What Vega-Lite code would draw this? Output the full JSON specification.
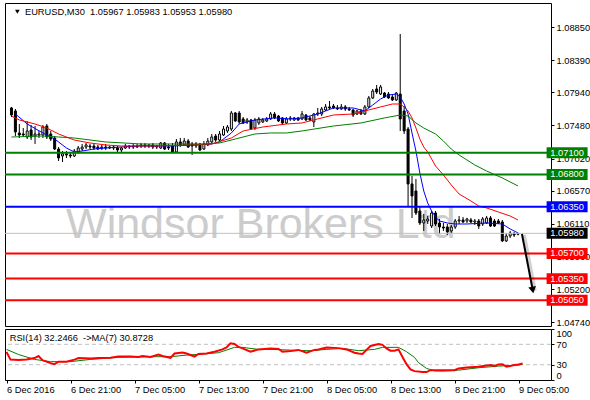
{
  "$schema": "https://vega.github.io/schema/vega-lite/v6.json",
  "padding": {"left": 2, "top": 2, "right": 0, "bottom": 0},
  "autosize": {"type": "pad"},
  "background": "#ffffff",
  "bounds": "flush",
  "spacing": 3,
  "config": {
    "view": {"stroke": "#000000", "strokeWidth": 1},
    "axis": {"labelFont": "Liberation Sans", "labelFontSize": 9.3, "labelColor": "#000000", "tickColor": "#000000", "tickSize": 3, "domain": false, "grid": false, "title": null, "labelPadding": 2, "labelOverlap": false},
    "text": {"font": "Liberation Sans"}
  },
  "datasets": {
    "candles": [
      {"t":"2016-12-06T13:00","o":1.07724,"h":1.07738,"l":1.07598,"c":1.07626},
      {"t":"2016-12-06T13:30","o":1.07682,"h":1.07710,"l":1.07334,"c":1.07390},
      {"t":"2016-12-06T14:00","o":1.07376,"h":1.07501,"l":1.07306,"c":1.07348},
      {"t":"2016-12-06T14:30","o":1.07362,"h":1.07445,"l":1.07320,"c":1.07348},
      {"t":"2016-12-06T15:00","o":1.07320,"h":1.07543,"l":1.07292,"c":1.07404},
      {"t":"2016-12-06T15:30","o":1.07418,"h":1.07487,"l":1.07278,"c":1.07320},
      {"t":"2016-12-06T16:00","o":1.07334,"h":1.07473,"l":1.07223,"c":1.07362},
      {"t":"2016-12-06T16:30","o":1.07348,"h":1.07404,"l":1.07306,"c":1.07362},
      {"t":"2016-12-06T17:00","o":1.07348,"h":1.07487,"l":1.07306,"c":1.07459},
      {"t":"2016-12-06T17:30","o":1.07473,"h":1.07501,"l":1.07292,"c":1.07320},
      {"t":"2016-12-06T18:00","o":1.07362,"h":1.07404,"l":1.07264,"c":1.07292},
      {"t":"2016-12-06T18:30","o":1.07306,"h":1.07334,"l":1.07139,"c":1.07153},
      {"t":"2016-12-06T19:00","o":1.07153,"h":1.07181,"l":1.06986,"c":1.07028},
      {"t":"2016-12-06T19:30","o":1.07056,"h":1.07125,"l":1.06972,"c":1.07084},
      {"t":"2016-12-06T20:00","o":1.07084,"h":1.07125,"l":1.07028,"c":1.07070},
      {"t":"2016-12-06T20:30","o":1.07070,"h":1.07097,"l":1.07028,"c":1.07056},
      {"t":"2016-12-06T21:00","o":1.07056,"h":1.07153,"l":1.07042,"c":1.07125},
      {"t":"2016-12-06T21:30","o":1.07111,"h":1.07195,"l":1.07084,"c":1.07167},
      {"t":"2016-12-06T22:00","o":1.07153,"h":1.07223,"l":1.07125,"c":1.07181},
      {"t":"2016-12-06T22:30","o":1.07181,"h":1.07237,"l":1.07153,"c":1.07209},
      {"t":"2016-12-06T23:00","o":1.07195,"h":1.07223,"l":1.07153,"c":1.07181},
      {"t":"2016-12-06T23:30","o":1.07195,"h":1.07223,"l":1.07139,"c":1.07167},
      {"t":"2016-12-07T00:00","o":1.07181,"h":1.07209,"l":1.07139,"c":1.07153},
      {"t":"2016-12-07T00:30","o":1.07167,"h":1.07209,"l":1.07139,"c":1.07181},
      {"t":"2016-12-07T01:00","o":1.07181,"h":1.07223,"l":1.07139,"c":1.07167},
      {"t":"2016-12-07T01:30","o":1.07167,"h":1.07195,"l":1.07153,"c":1.07181},
      {"t":"2016-12-07T02:00","o":1.07181,"h":1.07209,"l":1.07139,"c":1.07167},
      {"t":"2016-12-07T02:30","o":1.07167,"h":1.07195,"l":1.07111,"c":1.07139},
      {"t":"2016-12-07T03:00","o":1.07139,"h":1.07181,"l":1.07111,"c":1.07167},
      {"t":"2016-12-07T03:30","o":1.07167,"h":1.07223,"l":1.07153,"c":1.07195},
      {"t":"2016-12-07T04:00","o":1.07181,"h":1.07209,"l":1.07153,"c":1.07195},
      {"t":"2016-12-07T04:30","o":1.07195,"h":1.07223,"l":1.07153,"c":1.07181},
      {"t":"2016-12-07T05:00","o":1.07181,"h":1.07223,"l":1.07167,"c":1.07195},
      {"t":"2016-12-07T05:30","o":1.07195,"h":1.07237,"l":1.07167,"c":1.07209},
      {"t":"2016-12-07T06:00","o":1.07209,"h":1.07237,"l":1.07167,"c":1.07195},
      {"t":"2016-12-07T06:30","o":1.07195,"h":1.07223,"l":1.07167,"c":1.07209},
      {"t":"2016-12-07T07:00","o":1.07209,"h":1.07237,"l":1.07153,"c":1.07181},
      {"t":"2016-12-07T07:30","o":1.07181,"h":1.07209,"l":1.07153,"c":1.07195},
      {"t":"2016-12-07T08:00","o":1.07167,"h":1.07251,"l":1.07153,"c":1.07237},
      {"t":"2016-12-07T08:30","o":1.07237,"h":1.07251,"l":1.07139,"c":1.07153},
      {"t":"2016-12-07T09:00","o":1.07181,"h":1.07223,"l":1.07139,"c":1.07167},
      {"t":"2016-12-07T09:30","o":1.07195,"h":1.07237,"l":1.07097,"c":1.07111},
      {"t":"2016-12-07T10:00","o":1.07111,"h":1.07292,"l":1.07097,"c":1.07251},
      {"t":"2016-12-07T10:30","o":1.07251,"h":1.07306,"l":1.07181,"c":1.07209},
      {"t":"2016-12-07T11:00","o":1.07209,"h":1.07306,"l":1.07195,"c":1.07264},
      {"t":"2016-12-07T11:30","o":1.07264,"h":1.07292,"l":1.07167,"c":1.07181},
      {"t":"2016-12-07T12:00","o":1.07223,"h":1.07251,"l":1.07070,"c":1.07195},
      {"t":"2016-12-07T12:30","o":1.07195,"h":1.07251,"l":1.07167,"c":1.07223},
      {"t":"2016-12-07T13:00","o":1.07223,"h":1.07237,"l":1.07125,"c":1.07139},
      {"t":"2016-12-07T13:30","o":1.07153,"h":1.07264,"l":1.07139,"c":1.07223},
      {"t":"2016-12-07T14:00","o":1.07209,"h":1.07306,"l":1.07195,"c":1.07264},
      {"t":"2016-12-07T14:30","o":1.07251,"h":1.07362,"l":1.07237,"c":1.07320},
      {"t":"2016-12-07T15:00","o":1.07334,"h":1.07362,"l":1.07251,"c":1.07278},
      {"t":"2016-12-07T15:30","o":1.07278,"h":1.07404,"l":1.07264,"c":1.07362},
      {"t":"2016-12-07T16:00","o":1.07348,"h":1.07473,"l":1.07334,"c":1.07431},
      {"t":"2016-12-07T16:30","o":1.07404,"h":1.07487,"l":1.07376,"c":1.07459},
      {"t":"2016-12-07T17:00","o":1.07431,"h":1.07682,"l":1.07404,"c":1.07654},
      {"t":"2016-12-07T17:30","o":1.07654,"h":1.07668,"l":1.07529,"c":1.07543},
      {"t":"2016-12-07T18:00","o":1.07654,"h":1.07682,"l":1.07501,"c":1.07529},
      {"t":"2016-12-07T18:30","o":1.07571,"h":1.07598,"l":1.07501,"c":1.07515},
      {"t":"2016-12-07T19:00","o":1.07529,"h":1.07585,"l":1.07501,"c":1.07557},
      {"t":"2016-12-07T19:30","o":1.07557,"h":1.07571,"l":1.07418,"c":1.07431},
      {"t":"2016-12-07T20:00","o":1.07445,"h":1.07585,"l":1.07418,"c":1.07557},
      {"t":"2016-12-07T20:30","o":1.07515,"h":1.07598,"l":1.07487,"c":1.07571},
      {"t":"2016-12-07T21:00","o":1.07529,"h":1.07585,"l":1.07515,"c":1.07557},
      {"t":"2016-12-07T21:30","o":1.07543,"h":1.07598,"l":1.07529,"c":1.07571},
      {"t":"2016-12-07T22:00","o":1.07571,"h":1.07668,"l":1.07557,"c":1.07640},
      {"t":"2016-12-07T22:30","o":1.07640,"h":1.07668,"l":1.07571,"c":1.07585},
      {"t":"2016-12-07T23:00","o":1.07612,"h":1.07626,"l":1.07529,"c":1.07543},
      {"t":"2016-12-07T23:30","o":1.07585,"h":1.07598,"l":1.07501,"c":1.07515},
      {"t":"2016-12-08T00:00","o":1.07515,"h":1.07598,"l":1.07501,"c":1.07571},
      {"t":"2016-12-08T00:30","o":1.07571,"h":1.07612,"l":1.07543,"c":1.07585},
      {"t":"2016-12-08T01:00","o":1.07557,"h":1.07598,"l":1.07543,"c":1.07585},
      {"t":"2016-12-08T01:30","o":1.07585,"h":1.07598,"l":1.07543,"c":1.07557},
      {"t":"2016-12-08T02:00","o":1.07571,"h":1.07682,"l":1.07557,"c":1.07640},
      {"t":"2016-12-08T02:30","o":1.07626,"h":1.07640,"l":1.07543,"c":1.07557},
      {"t":"2016-12-08T03:00","o":1.07585,"h":1.07612,"l":1.07543,"c":1.07557},
      {"t":"2016-12-08T03:30","o":1.07529,"h":1.07654,"l":1.07459,"c":1.07640},
      {"t":"2016-12-08T04:00","o":1.07640,"h":1.07724,"l":1.07612,"c":1.07654},
      {"t":"2016-12-08T04:30","o":1.07640,"h":1.07738,"l":1.07612,"c":1.07710},
      {"t":"2016-12-08T05:00","o":1.07696,"h":1.07779,"l":1.07682,"c":1.07738},
      {"t":"2016-12-08T05:30","o":1.07738,"h":1.07821,"l":1.07710,"c":1.07724},
      {"t":"2016-12-08T06:00","o":1.07751,"h":1.07779,"l":1.07710,"c":1.07724},
      {"t":"2016-12-08T06:30","o":1.07724,"h":1.07765,"l":1.07696,"c":1.07710},
      {"t":"2016-12-08T07:00","o":1.07710,"h":1.07779,"l":1.07696,"c":1.07738},
      {"t":"2016-12-08T07:30","o":1.07738,"h":1.07765,"l":1.07682,"c":1.07710},
      {"t":"2016-12-08T08:00","o":1.07710,"h":1.07738,"l":1.07682,"c":1.07696},
      {"t":"2016-12-08T08:30","o":1.07696,"h":1.07710,"l":1.07598,"c":1.07626},
      {"t":"2016-12-08T09:00","o":1.07640,"h":1.07696,"l":1.07626,"c":1.07682},
      {"t":"2016-12-08T09:30","o":1.07682,"h":1.07710,"l":1.07626,"c":1.07640},
      {"t":"2016-12-08T10:00","o":1.07640,"h":1.07765,"l":1.07626,"c":1.07738},
      {"t":"2016-12-08T10:30","o":1.07738,"h":1.07891,"l":1.07724,"c":1.07863},
      {"t":"2016-12-08T11:00","o":1.07863,"h":1.07988,"l":1.07849,"c":1.07960},
      {"t":"2016-12-08T11:30","o":1.07988,"h":1.08044,"l":1.07918,"c":1.07946},
      {"t":"2016-12-08T12:00","o":1.07918,"h":1.08044,"l":1.07904,"c":1.08016},
      {"t":"2016-12-08T12:30","o":1.07932,"h":1.07946,"l":1.07863,"c":1.07877},
      {"t":"2016-12-08T13:00","o":1.07918,"h":1.07946,"l":1.07849,"c":1.07863},
      {"t":"2016-12-08T13:30","o":1.07877,"h":1.07904,"l":1.07821,"c":1.07835},
      {"t":"2016-12-08T14:00","o":1.07835,"h":1.07946,"l":1.07821,"c":1.07932},
      {"t":"2016-12-08T14:30","o":1.07918,"h":1.08753,"l":1.07404,"c":1.07571},
      {"t":"2016-12-08T15:00","o":1.07682,"h":1.07751,"l":1.07362,"c":1.07404},
      {"t":"2016-12-08T15:30","o":1.07431,"h":1.07459,"l":1.06360,"c":1.06667},
      {"t":"2016-12-08T16:00","o":1.06667,"h":1.06778,"l":1.06194,"c":1.06500},
      {"t":"2016-12-08T16:30","o":1.06569,"h":1.06736,"l":1.06235,"c":1.06263},
      {"t":"2016-12-08T17:00","o":1.06291,"h":1.06360,"l":1.06096,"c":1.06124},
      {"t":"2016-12-08T17:30","o":1.06124,"h":1.06249,"l":1.06013,"c":1.06166},
      {"t":"2016-12-08T18:00","o":1.06152,"h":1.06221,"l":1.06110,"c":1.06180},
      {"t":"2016-12-08T18:30","o":1.06082,"h":1.06291,"l":1.06054,"c":1.06263},
      {"t":"2016-12-08T19:00","o":1.06263,"h":1.06291,"l":1.06082,"c":1.06110},
      {"t":"2016-12-08T19:30","o":1.06124,"h":1.06180,"l":1.05971,"c":1.06068},
      {"t":"2016-12-08T20:00","o":1.06068,"h":1.06124,"l":1.06013,"c":1.06054},
      {"t":"2016-12-08T20:30","o":1.06068,"h":1.06110,"l":1.05957,"c":1.05999},
      {"t":"2016-12-08T21:00","o":1.06013,"h":1.06096,"l":1.05985,"c":1.06068},
      {"t":"2016-12-08T21:30","o":1.06068,"h":1.06180,"l":1.06041,"c":1.06152},
      {"t":"2016-12-08T22:00","o":1.06152,"h":1.06221,"l":1.06110,"c":1.06166},
      {"t":"2016-12-08T22:30","o":1.06166,"h":1.06207,"l":1.06124,"c":1.06138},
      {"t":"2016-12-08T23:00","o":1.06152,"h":1.06194,"l":1.06124,"c":1.06180},
      {"t":"2016-12-08T23:30","o":1.06166,"h":1.06194,"l":1.06124,"c":1.06138},
      {"t":"2016-12-09T00:00","o":1.06138,"h":1.06180,"l":1.06096,"c":1.06152},
      {"t":"2016-12-09T00:30","o":1.06152,"h":1.06180,"l":1.06041,"c":1.06082},
      {"t":"2016-12-09T01:00","o":1.06110,"h":1.06207,"l":1.06082,"c":1.06180},
      {"t":"2016-12-09T01:30","o":1.06124,"h":1.06221,"l":1.06110,"c":1.06194},
      {"t":"2016-12-09T02:00","o":1.06194,"h":1.06221,"l":1.06068,"c":1.06082},
      {"t":"2016-12-09T02:30","o":1.06152,"h":1.06180,"l":1.06068,"c":1.06082},
      {"t":"2016-12-09T03:00","o":1.06152,"h":1.06180,"l":1.06110,"c":1.06124},
      {"t":"2016-12-09T03:30","o":1.06138,"h":1.06166,"l":1.05860,"c":1.05874},
      {"t":"2016-12-09T04:00","o":1.05874,"h":1.05985,"l":1.05860,"c":1.05943},
      {"t":"2016-12-09T04:30","o":1.05943,"h":1.06013,"l":1.05915,"c":1.05985},
      {"t":"2016-12-09T05:00","o":1.05971,"h":1.05999,"l":1.05929,"c":1.05957},
      {"t":"2016-12-09T05:30","o":1.05967,"h":1.05983,"l":1.05953,"c":1.05980}
    ],
    "ma": [
      {"t":"2016-12-06T13:30","s":"fast","p":1.07640},
      {"t":"2016-12-06T15:00","s":"fast","p":1.07501},
      {"t":"2016-12-06T17:00","s":"fast","p":1.07376},
      {"t":"2016-12-06T18:30","s":"fast","p":1.07292},
      {"t":"2016-12-06T20:00","s":"fast","p":1.07167},
      {"t":"2016-12-06T21:00","s":"fast","p":1.07111},
      {"t":"2016-12-06T22:00","s":"fast","p":1.07125},
      {"t":"2016-12-06T23:30","s":"fast","p":1.07153},
      {"t":"2016-12-07T01:00","s":"fast","p":1.07167},
      {"t":"2016-12-07T05:00","s":"fast","p":1.07195},
      {"t":"2016-12-07T09:30","s":"fast","p":1.07195},
      {"t":"2016-12-07T12:00","s":"fast","p":1.07209},
      {"t":"2016-12-07T14:30","s":"fast","p":1.07223},
      {"t":"2016-12-07T15:30","s":"fast","p":1.07251},
      {"t":"2016-12-07T17:00","s":"fast","p":1.07376},
      {"t":"2016-12-07T18:00","s":"fast","p":1.07501},
      {"t":"2016-12-07T20:00","s":"fast","p":1.07557},
      {"t":"2016-12-07T22:30","s":"fast","p":1.07585},
      {"t":"2016-12-08T00:30","s":"fast","p":1.07571},
      {"t":"2016-12-08T02:00","s":"fast","p":1.07585},
      {"t":"2016-12-08T04:00","s":"fast","p":1.07640},
      {"t":"2016-12-08T06:00","s":"fast","p":1.07724},
      {"t":"2016-12-08T08:30","s":"fast","p":1.07724},
      {"t":"2016-12-08T10:00","s":"fast","p":1.07682},
      {"t":"2016-12-08T11:00","s":"fast","p":1.07765},
      {"t":"2016-12-08T12:00","s":"fast","p":1.07849},
      {"t":"2016-12-08T13:00","s":"fast","p":1.07904},
      {"t":"2016-12-08T14:00","s":"fast","p":1.07918},
      {"t":"2016-12-08T14:30","s":"fast","p":1.07877},
      {"t":"2016-12-08T15:00","s":"fast","p":1.07779},
      {"t":"2016-12-08T15:30","s":"fast","p":1.07640},
      {"t":"2016-12-08T16:00","s":"fast","p":1.07376},
      {"t":"2016-12-08T16:30","s":"fast","p":1.07125},
      {"t":"2016-12-08T17:00","s":"fast","p":1.06819},
      {"t":"2016-12-08T17:30","s":"fast","p":1.06569},
      {"t":"2016-12-08T18:00","s":"fast","p":1.06402},
      {"t":"2016-12-08T18:30","s":"fast","p":1.06291},
      {"t":"2016-12-08T19:00","s":"fast","p":1.06207},
      {"t":"2016-12-08T19:30","s":"fast","p":1.06152},
      {"t":"2016-12-08T20:30","s":"fast","p":1.06124},
      {"t":"2016-12-08T21:30","s":"fast","p":1.06110},
      {"t":"2016-12-08T23:00","s":"fast","p":1.06110},
      {"t":"2016-12-09T01:30","s":"fast","p":1.06124},
      {"t":"2016-12-09T03:30","s":"fast","p":1.06110},
      {"t":"2016-12-09T04:30","s":"fast","p":1.06041},
      {"t":"2016-12-09T05:30","s":"fast","p":1.05985},
      {"t":"2016-12-06T13:00","s":"mid","p":1.07612},
      {"t":"2016-12-06T14:00","s":"mid","p":1.07557},
      {"t":"2016-12-06T16:00","s":"mid","p":1.07501},
      {"t":"2016-12-06T17:30","s":"mid","p":1.07445},
      {"t":"2016-12-06T19:00","s":"mid","p":1.07362},
      {"t":"2016-12-06T21:00","s":"mid","p":1.07278},
      {"t":"2016-12-06T23:00","s":"mid","p":1.07237},
      {"t":"2016-12-07T01:00","s":"mid","p":1.07209},
      {"t":"2016-12-07T03:00","s":"mid","p":1.07195},
      {"t":"2016-12-07T07:30","s":"mid","p":1.07195},
      {"t":"2016-12-07T11:30","s":"mid","p":1.07209},
      {"t":"2016-12-07T14:30","s":"mid","p":1.07223},
      {"t":"2016-12-07T17:00","s":"mid","p":1.07306},
      {"t":"2016-12-07T18:30","s":"mid","p":1.07404},
      {"t":"2016-12-07T21:00","s":"mid","p":1.07459},
      {"t":"2016-12-08T00:00","s":"mid","p":1.07501},
      {"t":"2016-12-08T02:00","s":"mid","p":1.07515},
      {"t":"2016-12-08T04:00","s":"mid","p":1.07571},
      {"t":"2016-12-08T06:00","s":"mid","p":1.07626},
      {"t":"2016-12-08T08:30","s":"mid","p":1.07640},
      {"t":"2016-12-08T10:30","s":"mid","p":1.07696},
      {"t":"2016-12-08T12:00","s":"mid","p":1.07738},
      {"t":"2016-12-08T13:30","s":"mid","p":1.07779},
      {"t":"2016-12-08T14:30","s":"mid","p":1.07779},
      {"t":"2016-12-08T15:00","s":"mid","p":1.07738},
      {"t":"2016-12-08T15:30","s":"mid","p":1.07682},
      {"t":"2016-12-08T16:00","s":"mid","p":1.07585},
      {"t":"2016-12-08T16:30","s":"mid","p":1.07445},
      {"t":"2016-12-08T17:00","s":"mid","p":1.07292},
      {"t":"2016-12-08T17:30","s":"mid","p":1.07181},
      {"t":"2016-12-08T18:00","s":"mid","p":1.07111},
      {"t":"2016-12-08T18:30","s":"mid","p":1.07014},
      {"t":"2016-12-08T19:00","s":"mid","p":1.06917},
      {"t":"2016-12-08T20:00","s":"mid","p":1.06792},
      {"t":"2016-12-08T21:00","s":"mid","p":1.06653},
      {"t":"2016-12-08T22:00","s":"mid","p":1.06527},
      {"t":"2016-12-08T23:30","s":"mid","p":1.06430},
      {"t":"2016-12-09T00:30","s":"mid","p":1.06360},
      {"t":"2016-12-09T01:30","s":"mid","p":1.06333},
      {"t":"2016-12-09T03:00","s":"mid","p":1.06277},
      {"t":"2016-12-09T04:30","s":"mid","p":1.06221},
      {"t":"2016-12-09T05:30","s":"mid","p":1.06166},
      {"t":"2016-12-06T13:00","s":"slow","p":1.07320},
      {"t":"2016-12-06T17:00","s":"slow","p":1.07334},
      {"t":"2016-12-06T19:00","s":"slow","p":1.07320},
      {"t":"2016-12-06T21:00","s":"slow","p":1.07306},
      {"t":"2016-12-07T01:00","s":"slow","p":1.07251},
      {"t":"2016-12-07T05:30","s":"slow","p":1.07223},
      {"t":"2016-12-07T09:30","s":"slow","p":1.07223},
      {"t":"2016-12-07T13:30","s":"slow","p":1.07223},
      {"t":"2016-12-07T15:30","s":"slow","p":1.07237},
      {"t":"2016-12-07T17:30","s":"slow","p":1.07292},
      {"t":"2016-12-07T20:00","s":"slow","p":1.07362},
      {"t":"2016-12-07T22:00","s":"slow","p":1.07376},
      {"t":"2016-12-08T00:00","s":"slow","p":1.07376},
      {"t":"2016-12-08T02:00","s":"slow","p":1.07404},
      {"t":"2016-12-08T06:00","s":"slow","p":1.07473},
      {"t":"2016-12-08T09:30","s":"slow","p":1.07515},
      {"t":"2016-12-08T12:30","s":"slow","p":1.07585},
      {"t":"2016-12-08T14:30","s":"slow","p":1.07626},
      {"t":"2016-12-08T15:30","s":"slow","p":1.07612},
      {"t":"2016-12-08T16:30","s":"slow","p":1.07515},
      {"t":"2016-12-08T17:30","s":"slow","p":1.07445},
      {"t":"2016-12-08T19:00","s":"slow","p":1.07362},
      {"t":"2016-12-08T20:00","s":"slow","p":1.07264},
      {"t":"2016-12-08T21:00","s":"slow","p":1.07153},
      {"t":"2016-12-08T21:30","s":"slow","p":1.07111},
      {"t":"2016-12-08T22:00","s":"slow","p":1.07070},
      {"t":"2016-12-08T23:00","s":"slow","p":1.07000},
      {"t":"2016-12-09T00:00","s":"slow","p":1.06931},
      {"t":"2016-12-09T01:30","s":"slow","p":1.06847},
      {"t":"2016-12-09T03:30","s":"slow","p":1.06750},
      {"t":"2016-12-09T05:30","s":"slow","p":1.06639}
    ],
    "levels": [
      {"p":1.07100,"label":"1.07100","kind":"resistance"},
      {"p":1.06800,"label":"1.06800","kind":"resistance"},
      {"p":1.06350,"label":"1.06350","kind":"pivot"},
      {"p":1.05980,"label":"1.05980","kind":"current"},
      {"p":1.05700,"label":"1.05700","kind":"support"},
      {"p":1.05350,"label":"1.05350","kind":"support"},
      {"p":1.05050,"label":"1.05050","kind":"support"}
    ],
    "arrow": [
      {"t":"2016-12-09T06:00","p":1.05971,"part":"tail"},
      {"t":"2016-12-09T07:22:30","p":1.05192,"part":"head"}
    ],
    "rsi": [
      {"t":"2016-12-06T13:00","v":55},{"t":"2016-12-06T13:30","v":40},{"t":"2016-12-06T14:30","v":39},
      {"t":"2016-12-06T15:30","v":40},{"t":"2016-12-06T16:30","v":43},{"t":"2016-12-06T17:00","v":47},
      {"t":"2016-12-06T17:30","v":39},{"t":"2016-12-06T18:30","v":33},{"t":"2016-12-06T19:00","v":31},
      {"t":"2016-12-06T19:30","v":36},{"t":"2016-12-06T20:30","v":36},{"t":"2016-12-06T21:30","v":40},
      {"t":"2016-12-06T22:00","v":43},{"t":"2016-12-06T23:30","v":42},{"t":"2016-12-07T00:30","v":43},
      {"t":"2016-12-07T02:00","v":43.5},{"t":"2016-12-07T03:00","v":46},{"t":"2016-12-07T04:30","v":46},
      {"t":"2016-12-07T05:30","v":45},{"t":"2016-12-07T06:00","v":47},{"t":"2016-12-07T07:00","v":45},
      {"t":"2016-12-07T08:00","v":50},{"t":"2016-12-07T08:30","v":47},{"t":"2016-12-07T09:30","v":43.5},
      {"t":"2016-12-07T10:00","v":52},{"t":"2016-12-07T11:00","v":54},{"t":"2016-12-07T11:30","v":52},
      {"t":"2016-12-07T12:30","v":46},{"t":"2016-12-07T13:00","v":51},{"t":"2016-12-07T14:00","v":52},
      {"t":"2016-12-07T15:00","v":55.5},{"t":"2016-12-07T16:00","v":60},{"t":"2016-12-07T16:30","v":64},
      {"t":"2016-12-07T17:00","v":72},{"t":"2016-12-07T17:30","v":70.6},{"t":"2016-12-07T18:00","v":65},
      {"t":"2016-12-07T18:30","v":62},{"t":"2016-12-07T19:30","v":55.5},{"t":"2016-12-07T20:30","v":60},
      {"t":"2016-12-07T22:00","v":62},{"t":"2016-12-07T23:00","v":61},{"t":"2016-12-07T23:30","v":55.5},
      {"t":"2016-12-08T00:30","v":57},{"t":"2016-12-08T01:30","v":59},{"t":"2016-12-08T02:30","v":53.5},
      {"t":"2016-12-08T03:30","v":59},{"t":"2016-12-08T04:00","v":60},{"t":"2016-12-08T05:00","v":63.5},
      {"t":"2016-12-08T06:30","v":62.5},{"t":"2016-12-08T07:30","v":60},{"t":"2016-12-08T08:30","v":53.5},
      {"t":"2016-12-08T09:00","v":52},{"t":"2016-12-08T09:30","v":51},{"t":"2016-12-08T10:00","v":59},
      {"t":"2016-12-08T10:30","v":66.7},{"t":"2016-12-08T11:30","v":70.6},{"t":"2016-12-08T12:00","v":69},
      {"t":"2016-12-08T12:30","v":62},{"t":"2016-12-08T13:00","v":57.5},{"t":"2016-12-08T13:30","v":57.5},
      {"t":"2016-12-08T14:00","v":60},{"t":"2016-12-08T14:30","v":45},{"t":"2016-12-08T15:00","v":31},
      {"t":"2016-12-08T15:30","v":20.7},{"t":"2016-12-08T16:00","v":17.4},{"t":"2016-12-08T17:00","v":15.5},
      {"t":"2016-12-08T17:30","v":15.5},{"t":"2016-12-08T18:00","v":19.3},{"t":"2016-12-08T19:00","v":19.3},
      {"t":"2016-12-08T21:00","v":19.3},{"t":"2016-12-08T21:30","v":22.7},{"t":"2016-12-08T22:30","v":24.5},
      {"t":"2016-12-09T00:00","v":26},{"t":"2016-12-09T01:30","v":29.4},{"t":"2016-12-09T02:00","v":27.5},
      {"t":"2016-12-09T02:30","v":30.6},{"t":"2016-12-09T03:00","v":31},{"t":"2016-12-09T03:30","v":26},
      {"t":"2016-12-09T04:30","v":29.4},{"t":"2016-12-09T05:00","v":30.6},{"t":"2016-12-09T05:30","v":32.2}
    ],
    "rsima": [
      {"t":"2016-12-06T13:00","v":60},{"t":"2016-12-06T14:30","v":50},{"t":"2016-12-06T16:30","v":40.4},
      {"t":"2016-12-06T18:30","v":36},{"t":"2016-12-06T21:00","v":36},{"t":"2016-12-06T23:30","v":40.4},
      {"t":"2016-12-07T03:00","v":44.4},{"t":"2016-12-07T07:30","v":45.7},{"t":"2016-12-07T09:30","v":45.7},
      {"t":"2016-12-07T11:30","v":48.8},{"t":"2016-12-07T13:30","v":50.8},{"t":"2016-12-07T15:30","v":53.5},
      {"t":"2016-12-07T17:30","v":64},{"t":"2016-12-07T18:30","v":64},{"t":"2016-12-07T20:30","v":60},
      {"t":"2016-12-07T22:00","v":60},{"t":"2016-12-08T00:00","v":59},{"t":"2016-12-08T01:00","v":58},
      {"t":"2016-12-08T03:00","v":57.5},{"t":"2016-12-08T05:00","v":60},{"t":"2016-12-08T07:00","v":62},
      {"t":"2016-12-08T09:00","v":57.5},{"t":"2016-12-08T11:00","v":60},{"t":"2016-12-08T12:00","v":64},
      {"t":"2016-12-08T14:00","v":64},{"t":"2016-12-08T15:00","v":55.5},{"t":"2016-12-08T16:00","v":44.4},
      {"t":"2016-12-08T16:30","v":34},{"t":"2016-12-08T17:30","v":22.7},{"t":"2016-12-08T18:30","v":18},
      {"t":"2016-12-08T19:30","v":17.5},{"t":"2016-12-08T21:30","v":19.3},{"t":"2016-12-09T00:00","v":24},
      {"t":"2016-12-09T02:30","v":27.2},{"t":"2016-12-09T05:00","v":29.4},{"t":"2016-12-09T05:30","v":30.9}
    ],
    "rsilevels": [{"lv":30},{"lv":70}]
  },
  "vconcat": [
    {
      "width": 546,
      "height": 323,
      "resolve": {"scale": {"color": "independent"}},
      "layer": [
        {
          "data": {"values": [{}]},
          "mark": {"type": "text", "text": "Windsor Brokers Ltd", "font": "Liberation Sans", "fontSize": 43, "color": "#cccccc", "align": "center", "baseline": "alphabetic"},
          "encoding": {
            "x": {"datum": {"year": 2016, "month": 12, "date": 7, "hours": 20, "minutes": 45}, "type": "temporal",
                  "scale": {"domain": [{"year": 2016, "month": 12, "date": 6, "hours": 12, "minutes": 48, "seconds": 45}, {"year": 2016, "month": 12, "date": 9, "hours": 9, "minutes": 3, "seconds": 45}], "nice": false}, "axis": null},
            "y": {"datum": 1.0592, "type": "quantitative",
                  "scale": {"domain": [1.04691, 1.09184], "nice": false, "zero": false},
                  "axis": {"orient": "right", "values": [1.0474, 1.052, 1.0566, 1.0611, 1.0657, 1.0702, 1.0748, 1.0794, 1.0839, 1.0885], "tickCount": 40, "format": ".5f", "title": null, "labelOverlap": false}}
          }
        },
        {
          "data": {"name": "candles"},
          "mark": {"type": "rule", "color": "#000000", "strokeWidth": 1},
          "encoding": {
            "x": {"field": "t", "type": "temporal", "axis": null},
            "y": {"field": "l", "type": "quantitative", "title": null},
            "y2": {"field": "h"}
          }
        },
        {
          "data": {"name": "candles"},
          "mark": {"type": "bar", "width": 2, "stroke": "#000000", "strokeWidth": 1},
          "encoding": {
            "x": {"field": "t", "type": "temporal", "axis": null},
            "y": {"field": "o", "type": "quantitative", "title": null},
            "y2": {"field": "c"},
            "fill": {"condition": {"test": "datum.c >= datum.o", "value": "#ffffff"}, "value": "#000000"}
          }
        },
        {
          "data": {"name": "ma"},
          "mark": {"type": "line", "strokeWidth": 1},
          "encoding": {
            "x": {"field": "t", "type": "temporal", "axis": null},
            "y": {"field": "p", "type": "quantitative", "title": null},
            "color": {"field": "s", "type": "nominal", "scale": {"domain": ["fast", "mid", "slow"], "range": ["#0000ff", "#ff0000", "#008000"]}, "legend": null}
          }
        },
        {
          "data": {"name": "levels"},
          "transform": [{"filter": "datum.kind != 'current'"}],
          "mark": {"type": "rule", "strokeWidth": 2},
          "encoding": {
            "y": {"field": "p", "type": "quantitative", "title": null},
            "color": {"field": "kind", "type": "nominal", "scale": {"domain": ["resistance", "pivot", "support", "current"], "range": ["#008000", "#0000ff", "#ff0000", "#000000"]}, "legend": null}
          }
        },
        {
          "data": {"name": "levels"},
          "transform": [{"filter": "datum.kind == 'current'"}],
          "mark": {"type": "rule", "strokeWidth": 1, "color": "#c0c0c0"},
          "encoding": {
            "y": {"field": "p", "type": "quantitative", "title": null}
          }
        },
        {
          "data": {"name": "arrow"},
          "mark": {"type": "line", "color": "#000000", "strokeWidth": 4, "opacity": 0.18, "xOffset": 2, "yOffset": 1},
          "encoding": {
            "x": {"field": "t", "type": "temporal", "axis": null},
            "y": {"field": "p", "type": "quantitative", "title": null}
          }
        },
        {
          "data": {"name": "arrow"},
          "mark": {"type": "line", "color": "#000000", "strokeWidth": 2},
          "encoding": {
            "x": {"field": "t", "type": "temporal", "axis": null},
            "y": {"field": "p", "type": "quantitative", "title": null}
          }
        },
        {
          "data": {"name": "arrow"},
          "transform": [{"filter": "datum.part == 'head'"}],
          "mark": {"type": "point", "shape": "triangle-down", "size": 60, "filled": true, "color": "#000000", "opacity": 1, "angle": 349},
          "encoding": {
            "x": {"field": "t", "type": "temporal", "axis": null},
            "y": {"field": "p", "type": "quantitative", "title": null}
          }
        },
        {
          "data": {"name": "levels"},
          "mark": {"type": "point", "shape": "M-1,-0.268H1V0.268H-1Z", "size": 1681, "filled": true, "opacity": 1, "strokeWidth": 0},
          "encoding": {
            "x": {"datum": {"year": 2016, "month": 12, "date": 9, "hours": 11, "minutes": 45}, "type": "temporal", "axis": null},
            "y": {"field": "p", "type": "quantitative", "title": null},
            "color": {"field": "kind", "type": "nominal", "scale": {"domain": ["resistance", "pivot", "support", "current"], "range": ["#008000", "#0000ff", "#ff0000", "#000000"]}, "legend": null}
          }
        },
        {
          "data": {"name": "levels"},
          "mark": {"type": "text", "color": "#ffffff", "fontSize": 9.3, "align": "center", "baseline": "middle"},
          "encoding": {
            "x": {"datum": {"year": 2016, "month": 12, "date": 9, "hours": 11, "minutes": 45}, "type": "temporal", "axis": null},
            "y": {"field": "p", "type": "quantitative", "title": null},
            "text": {"field": "label"}
          }
        },
        {
          "data": {"values": [{}]},
          "mark": {"type": "point", "shape": "triangle-down", "size": 22, "filled": true, "color": "#000000", "opacity": 1},
          "encoding": {
            "x": {"datum": {"year": 2016, "month": 12, "date": 6, "hours": 13, "minutes": 45}, "type": "temporal", "axis": null},
            "y": {"datum": 1.09063, "type": "quantitative", "title": null}
          }
        },
        {
          "data": {"values": [{}]},
          "mark": {"type": "text", "text": "EURUSD,M30\u00a0 1.05967 1.05983 1.05953 1.05980", "fontSize": 9.3, "color": "#000000", "align": "left", "baseline": "middle"},
          "encoding": {
            "x": {"datum": {"year": 2016, "month": 12, "date": 6, "hours": 14, "minutes": 43}, "type": "temporal", "axis": null},
            "y": {"datum": 1.09063, "type": "quantitative", "title": null}
          }
        }
      ]
    },
    {
      "width": 546,
      "height": 51,
      "layer": [
        {
          "data": {"name": "rsilevels"},
          "mark": {"type": "rule", "color": "#c0c0c0", "strokeWidth": 1, "strokeDash": [4, 3]},
          "encoding": {
            "y": {"field": "lv", "type": "quantitative", "scale": {"domain": [0, 100], "nice": false, "zero": false},
                  "axis": {"orient": "right", "values": [0, 30, 70, 100], "tickCount": 20, "labelFlush": true, "labelOverlap": false, "title": null}}
          }
        },
        {
          "data": {"name": "rsima"},
          "mark": {"type": "line", "color": "#008000", "strokeWidth": 1},
          "encoding": {
            "x": {"field": "t", "type": "temporal",
                  "scale": {"domain": [{"year": 2016, "month": 12, "date": 6, "hours": 12, "minutes": 48, "seconds": 45}, {"year": 2016, "month": 12, "date": 9, "hours": 9, "minutes": 3, "seconds": 45}], "nice": false},
                  "axis": {"orient": "bottom", "title": null, "tickCount": 40, "values": [
                    {"year": 2016, "month": 12, "date": 6, "hours": 13},
                    {"year": 2016, "month": 12, "date": 6, "hours": 21},
                    {"year": 2016, "month": 12, "date": 7, "hours": 5},
                    {"year": 2016, "month": 12, "date": 7, "hours": 13},
                    {"year": 2016, "month": 12, "date": 7, "hours": 21},
                    {"year": 2016, "month": 12, "date": 8, "hours": 5},
                    {"year": 2016, "month": 12, "date": 8, "hours": 13},
                    {"year": 2016, "month": 12, "date": 8, "hours": 21},
                    {"year": 2016, "month": 12, "date": 9, "hours": 5}],
                    "labelExpr": "datum.value < datetime(2016, 11, 6, 14) ? '6 Dec 2016' : timeFormat(datum.value, '%-d %b %H:%M')",
                    "labelAlign": "left", "labelFlush": false, "labelOverlap": false, "labelBound": false, "labelPadding": 2}},
            "y": {"field": "v", "type": "quantitative", "title": null}
          }
        },
        {
          "data": {"name": "rsi"},
          "mark": {"type": "line", "color": "#ff0000", "strokeWidth": 2},
          "encoding": {
            "x": {"field": "t", "type": "temporal", "title": null},
            "y": {"field": "v", "type": "quantitative", "title": null}
          }
        },
        {
          "data": {"values": [{}]},
          "mark": {"type": "text", "text": "RSI(14) 32.2466\u00a0 ->MA(7) 30.8728", "fontSize": 9.3, "color": "#000000", "align": "left", "baseline": "middle"},
          "encoding": {
            "x": {"datum": {"year": 2016, "month": 12, "date": 6, "hours": 13, "minutes": 24}, "type": "temporal", "title": null},
            "y": {"datum": 83, "type": "quantitative", "title": null}
          }
        }
      ]
    }
  ]
}
